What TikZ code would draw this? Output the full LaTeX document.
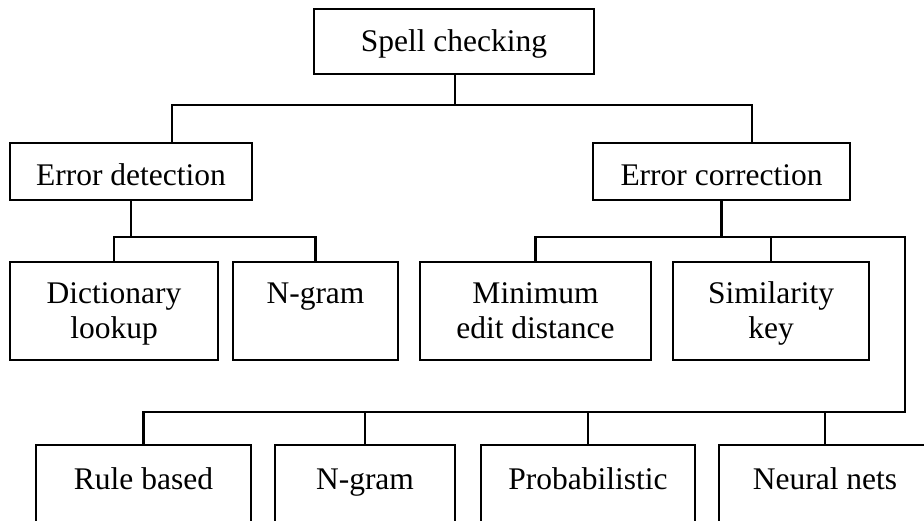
\documentclass[tikz,border=0pt]{standalone}
\usepackage{fontspec}
\setmainfont{Liberation Serif}
% lines of box text, with struts so every line has the same height;
% the first line carries a little extra room above it
\newcommand{\bl}[1]{\strut#1}
\newcommand{\fl}[1]{\rule{0pt}{29.5pt}\strut#1}
\begin{document}
\begin{tikzpicture}[x=1pt,y=-1pt,
  line width=2.2pt,
  box/.style={draw, rectangle, inner sep=0pt, align=center,
    font=\fontsize{31.5}{35}\selectfont},
  twoline/.style={box, minimum height=98},
  link/.style={draw, line width=2.2pt}]
\useasboundingbox (0,0) rectangle (924,520);
\clip (0,0) rectangle (924,520);

% root and first level
\node[box, minimum width=280, minimum height=65, text height=22, text depth=2] (sc) at (454,41.5) {Spell checking};
\node[box, minimum width=242, minimum height=57, text height=27, text depth=0] (ed) at (131,171.5) {Error detection};
\node[box, minimum width=257, minimum height=57, text height=27, text depth=0] (ec) at (721.5,171.5) {Error correction};

% second level
\node[twoline, minimum width=208] (dl)  at (114,311)   {\fl{Dictionary}\\\bl{lookup}};
\node[twoline, minimum width=165] (ng1) at (315.5,311) {\fl{N-gram}\\\bl{}};
\node[twoline, minimum width=231] (med) at (535.5,311) {\fl{Minimum}\\\bl{edit distance}};
\node[twoline, minimum width=196] (sim) at (771,311)   {\fl{Similarity}\\\bl{key}};

% third level (runs past the lower edge)
\begin{scope}[twoline/.append style={minimum height=104}]
\node[twoline, minimum width=215] (rb)  at (143.5,497) {\fl{Rule based}\\\bl{}};
\node[twoline, minimum width=180] (ng2) at (365,497)   {\fl{N-gram}\\\bl{}};
\node[twoline, minimum width=214] (pr)  at (588,497)   {\fl{Probabilistic}\\\bl{}};
\node[twoline, minimum width=212] (nn)  at (825,497)   {\fl{Neural nets}\\\bl{}};
\end{scope}

% junction points of the tree lines
\coordinate (j1) at (455,105);
\coordinate (edin) at (172,143);
\coordinate (ecin) at (752,143);
\coordinate (j2) at (131,237);
\coordinate (r1) at (905,237);
\coordinate (r2) at (905,412);

% spell checking -> detection / correction
\draw[link] (sc.south -| j1) -- (j1);
\draw[link] (edin) |- (j1) -| (ecin);

% detection -> its methods
\draw[link] (ed.south) -- (j2);
\draw[link] (dl.north) |- (j2) -| (ng1.north);

% correction -> its methods and the lower row
\draw[link] (ec.south) -- (ec.south |- r1);
\draw[link] (med.north) |- (r1) -- (r2) -| (rb.north);
\draw[link] (sim.north) -- (sim.north |- r1);
\draw[link] (ng2.north) -- (ng2.north |- r2);
\draw[link] (pr.north) -- (pr.north |- r2);
\draw[link] (nn.north) -- (nn.north |- r2);
\end{tikzpicture}
\end{document}
